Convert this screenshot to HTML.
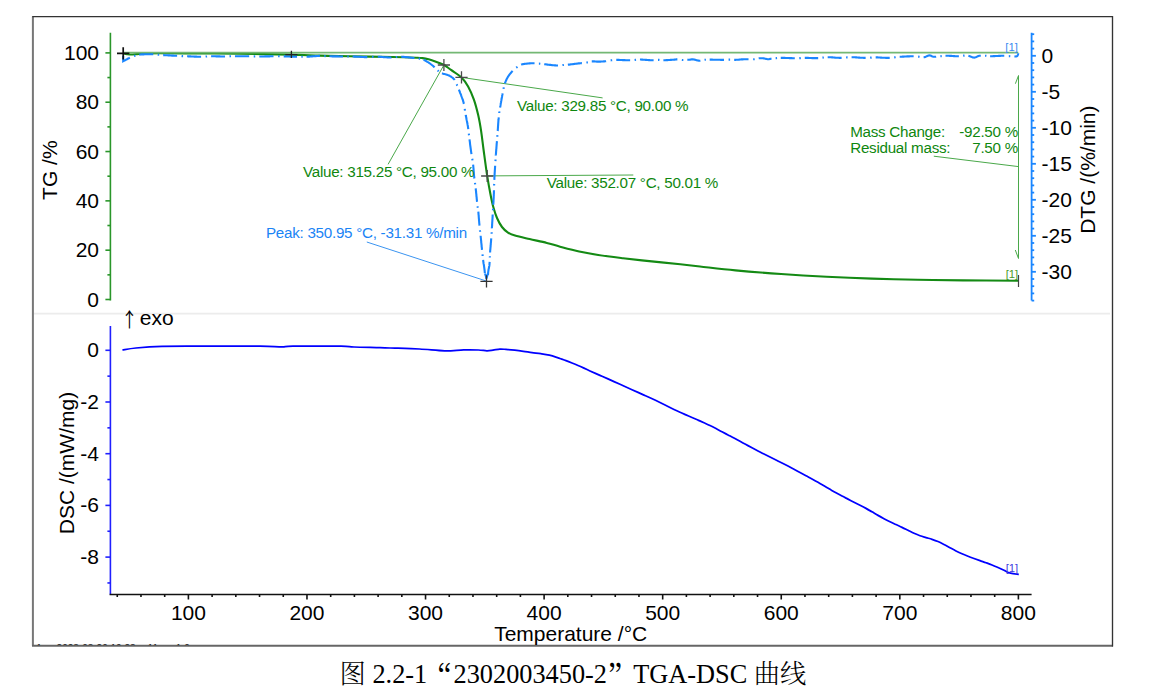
<!DOCTYPE html><html><head><meta charset="utf-8"><title>TGA-DSC</title><style>
html,body{margin:0;padding:0;background:#fff;}body{width:1153px;height:686px;overflow:hidden;position:relative;}
svg{position:absolute;left:0;top:0;display:block}
.t{font-family:'Liberation Sans', Arial, sans-serif;font-size:21px;fill:#000}
.a{font-family:'Liberation Sans', Arial, sans-serif;font-size:15.2px;letter-spacing:-0.27px}
.cap{position:absolute;left:0;top:0;white-space:nowrap;font-family:"Liberation Serif","Noto Serif CJK SC",serif;font-size:26.3px;color:#000;line-height:1;font-weight:300}
.q1,.q2{font-family:"Noto Serif CJK SC",serif;display:inline-block;font-weight:300}.q1{transform:translate(-2.4px,4.6px) scale(1.2,1.28);transform-origin:75% 30%}.q2{transform:translate(1.5px,4.8px) scale(1.2,1.28);transform-origin:25% 30%}
</style></head><body>
<svg width="1153" height="686" viewBox="0 0 1153 686">
<path d="M32.9,16.6 V645.7" stroke="#777" stroke-width="2" fill="none"/>
<path d="M32,645.7 H1113" stroke="#666" stroke-width="1.9" fill="none"/>
<path d="M32.2,16.6 H1112.5 V646.4" stroke="#333" stroke-width="1.35" fill="none"/>
<defs><clipPath id="fc"><rect x="34" y="600" width="1078" height="45.2"/></clipPath></defs>
<g clip-path="url(#fc)" style="font-family:'Liberation Sans', Arial, sans-serif;font-size:10px" fill="#222"><text x="36.3" y="652.1">1</text><text x="56.6" y="652.1">2023-03-20 10:28</text><text x="147.6" y="652.1">11</text><text x="175.8" y="652.1">1 0</text></g>
<line x1="34" y1="313.6" x2="1110" y2="313.6" stroke="#ececec" stroke-width="1.6"/>
<g stroke="#2a962a" stroke-width="1.6" fill="none">
<line x1="110.4" y1="32.8" x2="110.4" y2="300.5"/>
<line x1="105.4" y1="299.50" x2="110.4" y2="299.50"/>
<line x1="107.4" y1="274.84" x2="110.4" y2="274.84"/>
<line x1="105.4" y1="250.18" x2="110.4" y2="250.18"/>
<line x1="107.4" y1="225.52" x2="110.4" y2="225.52"/>
<line x1="105.4" y1="200.86" x2="110.4" y2="200.86"/>
<line x1="107.4" y1="176.20" x2="110.4" y2="176.20"/>
<line x1="105.4" y1="151.54" x2="110.4" y2="151.54"/>
<line x1="107.4" y1="126.88" x2="110.4" y2="126.88"/>
<line x1="105.4" y1="102.22" x2="110.4" y2="102.22"/>
<line x1="107.4" y1="77.56" x2="110.4" y2="77.56"/>
<line x1="105.4" y1="52.90" x2="110.4" y2="52.90"/>
</g>
<text class="t" x="99" y="299.00" text-anchor="end" dominant-baseline="central">0</text>
<text class="t" x="99" y="249.68" text-anchor="end" dominant-baseline="central">20</text>
<text class="t" x="99" y="200.36" text-anchor="end" dominant-baseline="central">40</text>
<text class="t" x="99" y="151.04" text-anchor="end" dominant-baseline="central">60</text>
<text class="t" x="99" y="101.72" text-anchor="end" dominant-baseline="central">80</text>
<text class="t" x="99" y="52.40" text-anchor="end" dominant-baseline="central">100</text>
<g stroke="#1a86ff" stroke-width="1.8" fill="none">
<line x1="1031.6" y1="32.7" x2="1031.6" y2="300.5"/>
<line x1="1031.6" y1="34.20" x2="1034.2" y2="34.20"/>
<line x1="1031.6" y1="41.40" x2="1034.2" y2="41.40"/>
<line x1="1031.6" y1="48.60" x2="1034.2" y2="48.60"/>
<line x1="1031.6" y1="55.80" x2="1035.9" y2="55.80"/>
<line x1="1031.6" y1="63.00" x2="1034.2" y2="63.00"/>
<line x1="1031.6" y1="70.20" x2="1034.2" y2="70.20"/>
<line x1="1031.6" y1="77.40" x2="1034.2" y2="77.40"/>
<line x1="1031.6" y1="84.60" x2="1034.2" y2="84.60"/>
<line x1="1031.6" y1="91.80" x2="1035.9" y2="91.80"/>
<line x1="1031.6" y1="99.00" x2="1034.2" y2="99.00"/>
<line x1="1031.6" y1="106.20" x2="1034.2" y2="106.20"/>
<line x1="1031.6" y1="113.40" x2="1034.2" y2="113.40"/>
<line x1="1031.6" y1="120.60" x2="1034.2" y2="120.60"/>
<line x1="1031.6" y1="127.80" x2="1035.9" y2="127.80"/>
<line x1="1031.6" y1="135.00" x2="1034.2" y2="135.00"/>
<line x1="1031.6" y1="142.20" x2="1034.2" y2="142.20"/>
<line x1="1031.6" y1="149.40" x2="1034.2" y2="149.40"/>
<line x1="1031.6" y1="156.60" x2="1034.2" y2="156.60"/>
<line x1="1031.6" y1="163.80" x2="1035.9" y2="163.80"/>
<line x1="1031.6" y1="171.00" x2="1034.2" y2="171.00"/>
<line x1="1031.6" y1="178.20" x2="1034.2" y2="178.20"/>
<line x1="1031.6" y1="185.40" x2="1034.2" y2="185.40"/>
<line x1="1031.6" y1="192.60" x2="1034.2" y2="192.60"/>
<line x1="1031.6" y1="199.80" x2="1035.9" y2="199.80"/>
<line x1="1031.6" y1="207.00" x2="1034.2" y2="207.00"/>
<line x1="1031.6" y1="214.20" x2="1034.2" y2="214.20"/>
<line x1="1031.6" y1="221.40" x2="1034.2" y2="221.40"/>
<line x1="1031.6" y1="228.60" x2="1034.2" y2="228.60"/>
<line x1="1031.6" y1="235.80" x2="1035.9" y2="235.80"/>
<line x1="1031.6" y1="243.00" x2="1034.2" y2="243.00"/>
<line x1="1031.6" y1="250.20" x2="1034.2" y2="250.20"/>
<line x1="1031.6" y1="257.40" x2="1034.2" y2="257.40"/>
<line x1="1031.6" y1="264.60" x2="1034.2" y2="264.60"/>
<line x1="1031.6" y1="271.80" x2="1035.9" y2="271.80"/>
<line x1="1031.6" y1="279.00" x2="1034.2" y2="279.00"/>
<line x1="1031.6" y1="286.20" x2="1034.2" y2="286.20"/>
<line x1="1031.6" y1="293.40" x2="1034.2" y2="293.40"/>
<line x1="1031.6" y1="300.60" x2="1034.2" y2="300.60"/>
</g>
<text class="t" x="1041.5" y="55.30" dominant-baseline="central">0</text>
<text class="t" x="1041.5" y="91.30" dominant-baseline="central">-5</text>
<text class="t" x="1041.5" y="127.30" dominant-baseline="central">-10</text>
<text class="t" x="1041.5" y="163.30" dominant-baseline="central">-15</text>
<text class="t" x="1041.5" y="199.30" dominant-baseline="central">-20</text>
<text class="t" x="1041.5" y="235.30" dominant-baseline="central">-25</text>
<text class="t" x="1041.5" y="271.30" dominant-baseline="central">-30</text>
<g stroke="#2020ff" stroke-width="1.6" fill="none">
<line x1="110.4" y1="326" x2="110.4" y2="594.5"/>
<line x1="105.4" y1="350.30" x2="110.4" y2="350.30"/>
<line x1="107.4" y1="376.15" x2="110.4" y2="376.15"/>
<line x1="105.4" y1="402.00" x2="110.4" y2="402.00"/>
<line x1="107.4" y1="427.85" x2="110.4" y2="427.85"/>
<line x1="105.4" y1="453.70" x2="110.4" y2="453.70"/>
<line x1="107.4" y1="479.55" x2="110.4" y2="479.55"/>
<line x1="105.4" y1="505.40" x2="110.4" y2="505.40"/>
<line x1="107.4" y1="531.25" x2="110.4" y2="531.25"/>
<line x1="105.4" y1="557.10" x2="110.4" y2="557.10"/>
<line x1="107.4" y1="582.95" x2="110.4" y2="582.95"/>
</g>
<text class="t" x="99" y="349.80" text-anchor="end" dominant-baseline="central">0</text>
<text class="t" x="99" y="401.50" text-anchor="end" dominant-baseline="central">-2</text>
<text class="t" x="99" y="453.20" text-anchor="end" dominant-baseline="central">-4</text>
<text class="t" x="99" y="504.90" text-anchor="end" dominant-baseline="central">-6</text>
<text class="t" x="99" y="556.60" text-anchor="end" dominant-baseline="central">-8</text>
<g stroke="#111" stroke-width="1.6" fill="none">
<line x1="109.6" y1="594.5" x2="1031.6" y2="594.5"/>
<line x1="117.26" y1="594.5" x2="117.26" y2="597.0"/>
<line x1="140.97" y1="594.5" x2="140.97" y2="597.0"/>
<line x1="164.69" y1="594.5" x2="164.69" y2="597.0"/>
<line x1="188.40" y1="594.5" x2="188.40" y2="599.5"/>
<line x1="212.11" y1="594.5" x2="212.11" y2="597.0"/>
<line x1="235.83" y1="594.5" x2="235.83" y2="597.0"/>
<line x1="259.54" y1="594.5" x2="259.54" y2="597.0"/>
<line x1="283.26" y1="594.5" x2="283.26" y2="597.0"/>
<line x1="306.97" y1="594.5" x2="306.97" y2="599.5"/>
<line x1="330.68" y1="594.5" x2="330.68" y2="597.0"/>
<line x1="354.40" y1="594.5" x2="354.40" y2="597.0"/>
<line x1="378.11" y1="594.5" x2="378.11" y2="597.0"/>
<line x1="401.83" y1="594.5" x2="401.83" y2="597.0"/>
<line x1="425.54" y1="594.5" x2="425.54" y2="599.5"/>
<line x1="449.25" y1="594.5" x2="449.25" y2="597.0"/>
<line x1="472.97" y1="594.5" x2="472.97" y2="597.0"/>
<line x1="496.68" y1="594.5" x2="496.68" y2="597.0"/>
<line x1="520.40" y1="594.5" x2="520.40" y2="597.0"/>
<line x1="544.11" y1="594.5" x2="544.11" y2="599.5"/>
<line x1="567.82" y1="594.5" x2="567.82" y2="597.0"/>
<line x1="591.54" y1="594.5" x2="591.54" y2="597.0"/>
<line x1="615.25" y1="594.5" x2="615.25" y2="597.0"/>
<line x1="638.97" y1="594.5" x2="638.97" y2="597.0"/>
<line x1="662.68" y1="594.5" x2="662.68" y2="599.5"/>
<line x1="686.39" y1="594.5" x2="686.39" y2="597.0"/>
<line x1="710.11" y1="594.5" x2="710.11" y2="597.0"/>
<line x1="733.82" y1="594.5" x2="733.82" y2="597.0"/>
<line x1="757.54" y1="594.5" x2="757.54" y2="597.0"/>
<line x1="781.25" y1="594.5" x2="781.25" y2="599.5"/>
<line x1="804.96" y1="594.5" x2="804.96" y2="597.0"/>
<line x1="828.68" y1="594.5" x2="828.68" y2="597.0"/>
<line x1="852.39" y1="594.5" x2="852.39" y2="597.0"/>
<line x1="876.11" y1="594.5" x2="876.11" y2="597.0"/>
<line x1="899.82" y1="594.5" x2="899.82" y2="599.5"/>
<line x1="923.53" y1="594.5" x2="923.53" y2="597.0"/>
<line x1="947.25" y1="594.5" x2="947.25" y2="597.0"/>
<line x1="970.96" y1="594.5" x2="970.96" y2="597.0"/>
<line x1="994.68" y1="594.5" x2="994.68" y2="597.0"/>
<line x1="1018.39" y1="594.5" x2="1018.39" y2="599.5"/>
</g>
<text class="t" x="188.40" y="619.6" text-anchor="middle">100</text>
<text class="t" x="306.97" y="619.6" text-anchor="middle">200</text>
<text class="t" x="425.54" y="619.6" text-anchor="middle">300</text>
<text class="t" x="544.11" y="619.6" text-anchor="middle">400</text>
<text class="t" x="662.68" y="619.6" text-anchor="middle">500</text>
<text class="t" x="781.25" y="619.6" text-anchor="middle">600</text>
<text class="t" x="899.82" y="619.6" text-anchor="middle">700</text>
<text class="t" x="1018.39" y="619.6" text-anchor="middle">800</text>
<text class="t" x="640" y="640.6" text-anchor="middle" transform="translate(-69.3,0)">Temperature /°C</text>
<text class="t" transform="translate(56.9,170.2) rotate(-90)" text-anchor="middle">TG /%</text>
<text class="t" transform="translate(74.3,463) rotate(-90)" text-anchor="middle">DSC /(mW/mg)</text>
<text class="t" transform="translate(1095.2,169.7) rotate(-90)" text-anchor="middle">DTG /(%/min)</text>
<text transform="translate(129.4,327.4) scale(0.8,0.97)" text-anchor="middle" style="font-family:'Noto Sans CJK SC',sans-serif;font-size:20.5px;font-weight:400">↑</text>
<text class="t" x="139.8" y="325.2">exo</text>
<g stroke="#4aa84a" stroke-width="1" fill="none">
<line x1="443.9" y1="65" x2="388.1" y2="164.3"/>
<line x1="461.5" y1="77.4" x2="602.6" y2="97.9"/>
<line x1="487.2" y1="175.9" x2="633.3" y2="175"/>
<line x1="933.8" y1="156.2" x2="1018.5" y2="166.6"/>
<line x1="1018.5" y1="75.5" x2="1018.5" y2="258.5"/>
<polyline points="1015.4,83.7 1018.5,75.5"/>
<polyline points="1015.3,250 1018.5,258.5"/>
</g>
<line x1="366.8" y1="242" x2="485.9" y2="280.9" stroke="#3b94f0" stroke-width="1"/>
<path d="M122.40,350.00 C124.67,349.67 129.40,348.60 136.00,348.00 C142.60,347.40 151.17,346.70 162.00,346.40 C172.83,346.10 188.00,346.23 201.00,346.20 C214.00,346.17 231.83,346.22 240.00,346.20 C248.17,346.18 245.33,346.07 250.00,346.10 C254.67,346.13 262.58,346.27 268.00,346.40 C273.42,346.53 278.33,346.93 282.50,346.90 C286.67,346.87 283.25,346.33 293.00,346.20 C302.75,346.07 330.83,345.97 341.00,346.10 C351.17,346.23 347.50,346.75 354.00,347.00 C360.50,347.25 374.00,347.43 380.00,347.60 C386.00,347.77 383.42,347.77 390.00,348.00 C396.58,348.23 410.40,348.53 419.50,349.00 C428.60,349.47 437.23,350.65 444.60,350.80 C451.97,350.95 458.05,350.03 463.70,349.90 C469.35,349.77 474.63,349.85 478.50,350.00 C482.37,350.15 484.48,350.77 486.90,350.80 C489.32,350.83 490.83,350.48 493.00,350.20 C495.17,349.92 497.73,349.23 499.90,349.10 C502.07,348.97 503.53,349.22 506.00,349.40 C508.47,349.58 511.80,349.88 514.70,350.20 C517.60,350.52 520.52,350.90 523.40,351.30 C526.28,351.70 529.12,352.20 532.00,352.60 C534.88,353.00 537.80,353.27 540.70,353.70 C543.60,354.13 546.50,354.52 549.40,355.20 C552.30,355.88 556.33,357.25 558.10,357.80 C559.87,358.35 558.68,358.04 560.00,358.51 C561.32,358.98 564.00,359.88 566.00,360.62 C568.00,361.36 570.00,362.15 572.00,362.95 C574.00,363.75 576.00,364.57 578.00,365.44 C580.00,366.31 582.00,367.23 584.00,368.15 C586.00,369.07 588.00,370.04 590.00,370.96 C592.00,371.87 594.00,372.76 596.00,373.64 C598.00,374.53 600.00,375.39 602.00,376.26 C604.00,377.14 606.00,378.02 608.00,378.91 C610.00,379.80 612.00,380.69 614.00,381.59 C616.00,382.49 618.00,383.39 620.00,384.30 C622.00,385.20 624.00,386.10 626.00,387.01 C628.00,387.91 630.00,388.81 632.00,389.71 C634.00,390.61 636.00,391.51 638.00,392.40 C640.00,393.30 642.00,394.19 644.00,395.08 C646.00,395.97 648.00,396.85 650.00,397.76 C652.00,398.68 654.00,399.62 656.00,400.58 C658.00,401.55 660.00,402.56 662.00,403.55 C664.00,404.54 666.00,405.56 668.00,406.54 C670.00,407.53 672.00,408.52 674.00,409.47 C676.00,410.43 678.00,411.35 680.00,412.25 C682.00,413.15 684.00,414.00 686.00,414.87 C688.00,415.73 690.00,416.56 692.00,417.43 C694.00,418.31 696.00,419.20 698.00,420.09 C700.00,420.99 702.00,421.87 704.00,422.78 C706.00,423.69 708.00,424.57 710.00,425.54 C712.00,426.51 714.00,427.54 716.00,428.58 C718.00,429.63 720.00,430.75 722.00,431.80 C724.00,432.86 726.00,433.88 728.00,434.92 C730.00,435.96 732.00,436.97 734.00,438.03 C736.00,439.09 738.00,440.18 740.00,441.27 C742.00,442.36 744.00,443.47 746.00,444.56 C748.00,445.65 750.00,446.75 752.00,447.82 C754.00,448.89 756.00,449.95 758.00,450.98 C760.00,452.02 762.00,453.02 764.00,454.03 C766.00,455.04 768.00,456.03 770.00,457.03 C772.00,458.03 774.00,459.01 776.00,460.01 C778.00,461.01 780.00,461.99 782.00,463.00 C784.00,464.01 786.00,465.02 788.00,466.07 C790.00,467.12 792.00,468.20 794.00,469.29 C796.00,470.37 798.00,471.48 800.00,472.57 C802.00,473.65 804.00,474.72 806.00,475.78 C808.00,476.84 810.00,477.85 812.00,478.92 C814.00,480.00 816.00,481.08 818.00,482.22 C820.00,483.36 822.00,484.57 824.00,485.76 C826.00,486.95 828.00,488.16 830.00,489.34 C832.00,490.52 834.00,491.72 836.00,492.85 C838.00,493.97 840.00,495.04 842.00,496.09 C844.00,497.14 846.00,498.13 848.00,499.15 C850.00,500.16 852.00,501.16 854.00,502.17 C856.00,503.18 858.00,504.17 860.00,505.20 C862.00,506.23 864.00,507.26 866.00,508.36 C868.00,509.47 870.00,510.66 872.00,511.83 C874.00,513.00 876.00,514.23 878.00,515.37 C880.00,516.52 882.00,517.64 884.00,518.70 C886.00,519.76 888.00,520.77 890.00,521.75 C892.00,522.73 894.00,523.65 896.00,524.58 C898.00,525.52 900.00,526.39 902.00,527.35 C904.00,528.30 906.00,529.31 908.00,530.30 C910.00,531.29 912.00,532.37 914.00,533.27 C916.00,534.18 918.00,535.02 920.00,535.74 C922.00,536.46 924.00,536.99 926.00,537.59 C928.00,538.19 930.00,538.67 932.00,539.33 C934.00,539.99 936.00,540.68 938.00,541.54 C940.00,542.39 942.00,543.44 944.00,544.47 C946.00,545.50 948.00,546.66 950.00,547.74 C952.00,548.82 954.00,549.92 956.00,550.93 C958.00,551.94 960.00,552.90 962.00,553.79 C964.00,554.68 966.00,555.48 968.00,556.28 C970.00,557.07 972.00,557.81 974.00,558.55 C976.00,559.28 978.00,559.99 980.00,560.68 C982.00,561.38 984.00,562.02 986.00,562.73 C988.00,563.44 990.00,564.14 992.00,564.94 C994.00,565.74 996.00,566.64 998.00,567.53 C1000.00,568.42 1002.68,569.65 1004.00,570.28 C1005.32,570.91 1004.80,570.81 1005.90,571.30 C1007.00,571.79 1008.45,572.68 1010.60,573.20 C1012.75,573.72 1017.43,574.20 1018.80,574.40" fill="none" stroke="#0000ff" stroke-width="1.75"/>
<path d="M123.00,53.30 C123.67,53.43 125.67,53.90 127.00,54.10 C128.33,54.30 129.33,54.50 131.00,54.50 C132.67,54.50 134.50,54.27 137.00,54.10 C139.50,53.93 142.17,53.63 146.00,53.50 C149.83,53.37 151.00,53.32 160.00,53.30 C169.00,53.28 186.67,53.32 200.00,53.40 C213.33,53.48 224.83,53.60 240.00,53.80 C255.17,54.00 277.67,54.30 291.00,54.60 C304.33,54.90 310.17,55.32 320.00,55.60 C329.83,55.88 338.00,56.07 350.00,56.30 C362.00,56.53 380.93,56.77 392.00,57.00 C403.07,57.23 411.32,57.52 416.40,57.70 C421.48,57.88 420.47,57.83 422.50,58.10 C424.53,58.37 426.58,58.78 428.60,59.30 C430.62,59.82 432.58,60.50 434.60,61.20 C436.62,61.90 439.10,62.87 440.70,63.50 C442.30,64.13 442.48,63.93 444.20,65.00 C445.92,66.07 448.12,67.83 451.00,69.90 C453.88,71.97 458.65,74.65 461.50,77.40 C464.35,80.15 466.03,82.70 468.10,86.40 C470.17,90.10 472.20,94.73 473.90,99.60 C475.60,104.47 477.08,110.27 478.30,115.60 C479.52,120.93 480.32,125.87 481.20,131.60 C482.08,137.33 482.60,142.62 483.60,150.00 C484.60,157.38 486.03,168.40 487.20,175.90 C488.37,183.40 489.58,189.82 490.60,195.00 C491.62,200.18 492.23,203.17 493.30,207.00 C494.37,210.83 495.55,214.67 497.00,218.00 C498.45,221.33 500.17,224.57 502.00,227.00 C503.83,229.43 505.83,231.17 508.00,232.60 C510.17,234.03 511.40,234.52 515.00,235.60 C518.60,236.68 524.30,237.88 529.60,239.10 C534.90,240.32 541.72,241.63 546.80,242.90 C551.88,244.17 554.70,245.27 560.10,246.70 C565.50,248.13 572.83,250.12 579.20,251.50 C585.57,252.88 590.98,253.88 598.30,255.00 C605.62,256.12 614.20,257.13 623.10,258.20 C632.00,259.27 642.17,260.38 651.70,261.40 C661.23,262.42 672.25,263.45 680.30,264.30 C688.35,265.15 690.80,265.48 700.00,266.50 C709.20,267.52 721.98,269.15 735.50,270.40 C749.02,271.65 765.92,272.95 781.10,274.00 C796.28,275.05 811.43,275.93 826.60,276.70 C841.77,277.47 856.92,278.08 872.10,278.60 C887.28,279.12 902.52,279.50 917.70,279.80 C932.88,280.10 946.40,280.25 963.20,280.40 C980.00,280.55 1009.28,280.65 1018.50,280.70" fill="none" stroke="#148a14" stroke-width="2.1" stroke-linejoin="round"/>
<line x1="123" y1="52.6" x2="1018.3" y2="52.6" stroke-width="1.6" stroke="#74b874"/>
<path d="M123.2,55.8 123.2,56.6 123.2,57.3 123.2,58.1 123.2,58.9 123.2,59.7 123.2,60.4 123.2,61.2 123.8,60.9 124.5,60.5 125.1,60.2 125.7,59.9 126.4,59.5 127.0,59.2 127.7,58.8 128.3,58.5 128.9,58.2 129.6,57.8 130.2,57.5 130.6,57.3 131.2,57.1 131.9,56.8 132.6,56.5 133.4,56.2 134.2,55.9 134.8,55.7 135.4,55.5 135.9,55.3 136.5,55.1 137.3,54.9 138.2,54.7 139.3,54.6" fill="none" stroke="#1a86ff" stroke-width="2.1" stroke-dasharray="14.00 4.50 1.50 4.00" stroke-dashoffset="1.09"/>
<path d="M139.3,54.6 139.8,54.6 140.4,54.5 141.0,54.5 141.6,54.4 142.3,54.4 143.0,54.4 143.8,54.4 144.5,54.3 145.3,54.3 146.0,54.3 146.8,54.3 147.6,54.3 148.4,54.3 149.1,54.3 149.9,54.3 150.6,54.3 151.3,54.3 152.0,54.3 152.7,54.3 153.5,54.3 154.2,54.4 154.9,54.4 155.5,54.5 156.2,54.5 156.9,54.6 157.5,54.6 158.2,54.7 158.9,54.8 159.6,54.8 160.3,54.9 161.0,54.9 161.7,55.0 162.4,55.1 163.2,55.1" fill="none" stroke="#1a86ff" stroke-width="2.1" stroke-dasharray="13.96 4.49 1.50 3.99"/>
<path d="M163.2,55.1 163.9,55.1 164.5,55.2 165.2,55.2 165.9,55.3 166.7,55.3 167.4,55.3 168.1,55.4 168.9,55.4 169.6,55.4 170.4,55.5 171.1,55.5 171.9,55.6 172.6,55.6 173.3,55.6 174.0,55.7 174.7,55.7 175.4,55.7 176.1,55.8 176.7,55.8 177.5,55.8 178.3,55.9 179.1,55.9 179.8,56.0 180.5,56.0 181.2,56.0 181.9,56.1 182.6,56.1 183.3,56.1 184.0,56.2 184.7,56.2 185.5,56.2 186.3,56.3 187.1,56.3" fill="none" stroke="#1a86ff" stroke-width="2.1" stroke-dasharray="13.96 4.49 1.50 3.99"/>
<path d="M187.1,56.3 187.7,56.3 188.4,56.4 189.1,56.4 189.8,56.4 190.5,56.4 191.3,56.5 192.0,56.5 192.8,56.5 193.5,56.5 194.3,56.6 195.0,56.6 195.8,56.6 196.5,56.6 197.3,56.7 198.0,56.7 198.7,56.7 199.4,56.7 200.1,56.7 200.7,56.7 201.5,56.7 202.3,56.7 203.1,56.7 203.8,56.6 204.5,56.6 205.2,56.6 205.9,56.5 206.6,56.5 207.3,56.4 208.0,56.4 208.8,56.4 209.5,56.3 210.3,56.3 211.1,56.3" fill="none" stroke="#1a86ff" stroke-width="2.1" stroke-dasharray="14.01 4.50 1.50 4.00"/>
<path d="M211.1,56.3 211.8,56.3 212.4,56.3 213.1,56.3 213.9,56.3 214.6,56.3 215.3,56.3 216.1,56.4 216.8,56.4 217.6,56.4 218.3,56.4 219.1,56.4 219.8,56.4 220.6,56.5 221.3,56.5 222.0,56.5 222.7,56.5 223.4,56.5 224.1,56.5 224.9,56.5 225.6,56.5 226.4,56.5 227.1,56.4 227.8,56.4 228.5,56.4 229.2,56.4 229.9,56.3 230.6,56.3 231.3,56.3 232.0,56.3 232.8,56.2 233.5,56.2 234.2,56.2 235.0,56.2" fill="none" stroke="#1a86ff" stroke-width="2.1" stroke-dasharray="13.95 4.48 1.49 3.98"/>
<path d="M235.0,56.2 235.7,56.2 236.4,56.2 237.1,56.2 237.8,56.2 238.5,56.2 239.2,56.2 240.0,56.2 240.7,56.2 241.4,56.2 242.2,56.2 242.9,56.2 243.7,56.3 244.4,56.3 245.1,56.3 245.9,56.3 246.6,56.3 247.3,56.3 248.0,56.3 248.7,56.3 249.4,56.3 250.1,56.3 250.8,56.4 251.4,56.4 252.1,56.4 252.8,56.4 253.5,56.4 254.2,56.4 254.9,56.5 255.6,56.5 256.3,56.5 257.0,56.5 257.8,56.5 258.5,56.5 259.3,56.5" fill="none" stroke="#1a86ff" stroke-width="2.1" stroke-dasharray="14.18 4.56 1.52 4.05"/>
<path d="M259.3,56.5 260.0,56.5 260.6,56.5 261.3,56.5 262.1,56.5 262.8,56.5 263.5,56.5 264.3,56.5 265.0,56.4 265.8,56.4 266.6,56.4 267.3,56.4 268.1,56.4 268.9,56.4 269.6,56.4 270.3,56.3 271.1,56.3 271.7,56.3 272.4,56.3 273.1,56.3 273.7,56.3 274.3,56.3 275.2,56.3 276.0,56.3 276.8,56.3 277.5,56.3 278.2,56.3 278.8,56.3 279.5,56.3 280.1,56.3 280.8,56.3 281.4,56.4 282.1,56.4 282.9,56.4 283.7,56.4" fill="none" stroke="#1a86ff" stroke-width="2.1" stroke-dasharray="14.23 4.58 1.53 4.07"/>
<path d="M283.7,56.4 284.4,56.4 285.0,56.4 285.7,56.4 286.5,56.5 287.2,56.5 288.0,56.5 288.7,56.5 289.5,56.5 290.3,56.6 291.0,56.6 291.8,56.6 292.6,56.6 293.3,56.6 294.1,56.7 294.8,56.7 295.5,56.7 296.2,56.7 297.0,56.7 297.8,56.7 298.5,56.7 299.2,56.7 299.9,56.8 300.6,56.8 301.3,56.8 302.0,56.8 302.7,56.8 303.5,56.8 304.2,56.8 305.0,56.7 305.8,56.7 306.6,56.7" fill="none" stroke="#1a86ff" stroke-width="2.1" stroke-dasharray="13.36 4.29 1.43 3.82"/>
<path d="M306.6,56.7 307.2,56.7 307.9,56.6 308.6,56.6 309.3,56.6 310.0,56.5 310.8,56.5 311.5,56.4 312.3,56.4 313.0,56.3 313.8,56.2 314.5,56.2 315.3,56.1 316.0,56.1 316.8,56.0 317.5,56.0 318.2,56.0 318.8,55.9 319.5,55.9 320.1,55.9 320.9,55.9 321.7,55.9 322.4,55.9 323.1,55.9 323.8,56.0 324.4,56.0 325.0,56.1 325.7,56.1 326.4,56.2 327.1,56.2 327.8,56.2 328.6,56.3 329.5,56.3" fill="none" stroke="#1a86ff" stroke-width="2.1" stroke-dasharray="13.38 4.30 1.43 3.82"/>
<path d="M329.5,56.3 330.1,56.3 330.8,56.3 331.5,56.3 332.2,56.4 332.9,56.4 333.7,56.4 334.5,56.4 335.3,56.4 336.1,56.4 336.9,56.4 337.7,56.4 338.4,56.4 339.2,56.5 340.0,56.5 340.8,56.5 341.5,56.5 342.2,56.5 342.9,56.5 343.5,56.5 344.1,56.5 345.0,56.5 345.8,56.5 346.5,56.5 347.2,56.5 347.8,56.5 348.4,56.5 349.0,56.5 349.6,56.5 350.2,56.5 350.9,56.5 351.7,56.5 352.6,56.5" fill="none" stroke="#1a86ff" stroke-width="2.1" stroke-dasharray="13.48 4.33 1.44 3.85"/>
<path d="M352.6,56.5 353.2,56.5 353.8,56.5 354.5,56.6 355.2,56.6 355.9,56.6 356.7,56.7 357.4,56.7 358.2,56.8 359.0,56.8 359.8,56.8 360.6,56.9 361.3,56.9 362.1,57.0 362.9,57.0 363.6,57.0 364.4,57.1 365.1,57.1 365.8,57.1 366.5,57.1 367.3,57.1 368.0,57.1 368.8,57.1 369.5,57.0 370.2,57.0 370.9,57.0 371.6,56.9 372.3,56.9 372.9,56.8 373.6,56.8 374.3,56.8 375.0,56.7 375.7,56.7 376.4,56.7 377.1,56.7 377.8,56.7" fill="none" stroke="#1a86ff" stroke-width="2.1" stroke-dasharray="14.71 4.73 1.58 4.20"/>
<path d="M377.8,56.7 378.5,56.7 379.2,56.7 379.9,56.8 380.6,56.8 381.3,56.9 382.0,57.0 382.8,57.0 383.5,57.1 384.2,57.2 384.9,57.2 385.7,57.3 386.4,57.3 387.1,57.4 387.8,57.4 388.5,57.5 389.2,57.5 389.9,57.5 390.6,57.5 391.3,57.5 392.0,57.4 392.7,57.4 393.4,57.3 394.0,57.3 394.7,57.2 395.4,57.1 396.1,57.0 396.7,57.0 397.4,56.9 398.2,56.9 398.9,56.8 399.6,56.8 400.4,56.8 401.2,56.8" fill="none" stroke="#1a86ff" stroke-width="2.1" stroke-dasharray="13.68 4.40 1.47 3.91"/>
<path d="M401.2,56.8 401.8,56.8 402.5,56.9 403.2,56.9 403.9,56.9 404.7,57.0 405.4,57.1 406.2,57.1 407.0,57.2 407.8,57.3 408.5,57.4 409.3,57.5 410.1,57.5 410.8,57.6 411.6,57.7 412.3,57.8 413.0,57.9 413.6,58.0 414.3,58.0 414.9,58.1 415.4,58.1 415.9,58.2 417.2,58.3 418.2,58.4 418.9,58.5 419.6,58.6 420.1,58.6 420.6,58.7 421.1,58.8 422.0,59.0 422.7,59.2 423.7,59.7" fill="none" stroke="#1a86ff" stroke-width="2.1" stroke-dasharray="13.29 4.27 1.42 3.80"/>
<path d="M423.7,59.7 424.2,60.0 424.7,60.3 425.3,60.6 426.0,61.0 426.6,61.3 427.3,61.8 428.0,62.2 428.7,62.6 429.4,63.1 430.0,63.5 430.6,64.0 431.3,64.5 431.9,65.0 432.6,65.5 433.2,66.0 433.8,66.6 434.4,67.1 435.0,67.6 435.5,68.0 435.9,68.4 436.6,69.2 437.1,69.7 437.4,70.2 438.0,70.7 438.5,71.1 439.1,71.6 439.7,72.0 440.4,72.5 441.1,72.9 442.0,73.3" fill="none" stroke="#1a86ff" stroke-width="2.1" stroke-dasharray="13.38 4.30 1.43 3.82"/>
<path d="M442.0,73.3 442.6,73.5 443.2,73.7 443.9,73.9 444.7,74.1 445.4,74.3 446.2,74.5 446.9,74.7 447.7,75.0 448.4,75.2 449.0,75.5 449.7,75.9 450.3,76.2 451.0,76.6 451.6,77.1 452.2,77.5 452.8,77.9 453.3,78.4 453.8,78.9 454.3,79.4 454.7,80.0 455.1,80.6 455.5,81.2 455.8,81.9 456.0,82.5 456.3,83.2 456.5,83.9 456.8,84.5 457.1,85.2 457.4,85.7 457.6,86.3 457.8,86.9 458.1,87.6 458.5,88.5 458.9,89.6" fill="none" stroke="#1a86ff" stroke-width="2.1" stroke-dasharray="14.70 4.72 1.57 4.20"/>
<path d="M458.9,89.6 459.1,90.1 459.3,90.6 459.5,91.2 459.7,91.8 460.0,92.4 460.2,93.1 460.5,93.7 460.8,94.4 461.1,95.1 461.3,95.8 461.6,96.6 461.9,97.3 462.1,98.0 462.4,98.8 462.6,99.5 462.9,100.2 463.1,100.9 463.3,101.6 463.5,102.3 463.7,103.0 463.8,103.7 464.0,104.4 464.1,105.1 464.3,105.8 464.4,106.5 464.5,107.2 464.6,107.9 464.7,108.6 464.8,109.3 464.9,110.0 465.0,110.7 465.1,111.4 465.3,112.1 465.4,112.8 465.5,113.5 465.6,114.2 465.7,114.9" fill="none" stroke="#1a86ff" stroke-width="2.1" stroke-dasharray="15.35 4.93 1.64 4.39"/>
<path d="M465.7,114.9 465.8,115.6 466.0,116.4 466.1,117.1 466.3,117.8 466.4,118.5 466.5,119.2 466.7,119.9 466.8,120.7 467.0,121.4 467.1,122.1 467.2,122.8 467.4,123.5 467.5,124.2 467.6,124.9 467.8,125.7 467.9,126.4 468.0,127.1 468.1,127.8 468.2,128.5 468.3,129.3 468.4,130.0 468.5,130.7 468.6,131.4 468.7,132.2 468.8,132.9 468.8,133.6 468.9,134.3 469.0,135.1 469.1,135.8 469.2,136.5 469.2,137.2 469.3,138.0 469.4,138.7 469.5,139.4" fill="none" stroke="#1a86ff" stroke-width="2.1" stroke-dasharray="14.47 4.65 1.55 4.13"/>
<path d="M469.5,139.4 469.6,140.1 469.7,140.8 469.8,141.5 469.9,142.3 470.0,143.0 470.0,143.7 470.1,144.4 470.2,145.1 470.3,145.8 470.4,146.5 470.5,147.2 470.6,148.0 470.7,148.7 470.8,149.4 470.9,150.1 471.0,150.9 471.1,151.6 471.2,152.3 471.3,153.0 471.4,153.7 471.5,154.5 471.7,155.2 471.8,155.9 471.9,156.7 472.0,157.4 472.1,158.1 472.3,158.9 472.4,159.6 472.5,160.3 472.6,161.1 472.7,161.8 472.8,162.5 472.9,163.2 473.0,163.9 473.1,164.6" fill="none" stroke="#1a86ff" stroke-width="2.1" stroke-dasharray="14.85 4.77 1.59 4.24"/>
<path d="M473.1,164.6 473.2,165.4 473.3,166.1 473.3,166.8 473.4,167.6 473.5,168.3 473.5,169.0 473.6,169.7 473.6,170.4 473.7,171.1 473.7,171.8 473.8,172.5 473.8,173.2 473.9,173.9 474.0,174.6 474.0,175.4 474.1,176.1 474.2,176.8 474.3,177.5 474.3,178.2 474.4,178.9 474.5,179.6 474.6,180.3 474.7,181.0 474.8,181.7 474.9,182.4 475.0,183.1 475.1,183.8 475.2,184.6 475.3,185.3 475.4,186.1 475.5,186.8 475.6,187.6 475.7,188.4" fill="none" stroke="#1a86ff" stroke-width="2.1" stroke-dasharray="13.97 4.49 1.50 3.99"/>
<path d="M475.7,188.4 475.8,189.1 475.8,189.7 475.9,190.4 476.0,191.2 476.1,191.9 476.1,192.7 476.2,193.4 476.3,194.2 476.4,195.0 476.4,195.7 476.5,196.5 476.6,197.2 476.7,198.0 476.7,198.7 476.8,199.4 476.9,200.2 476.9,200.8 477.0,201.5 477.1,202.1 477.1,202.7 477.2,203.3 477.3,204.3 477.4,205.1 477.5,205.8 477.6,206.5 477.7,207.1 477.8,207.6 477.9,208.2 478.0,208.9 478.1,209.7 478.2,210.6 478.3,211.6" fill="none" stroke="#1a86ff" stroke-width="2.1" stroke-dasharray="13.62 4.38 1.46 3.89"/>
<path d="M478.3,211.6 478.4,212.2 478.4,212.8 478.5,213.4 478.5,214.1 478.6,214.8 478.7,215.6 478.7,216.3 478.8,217.1 478.8,217.9 478.9,218.7 479.0,219.5 479.0,220.4 479.1,221.2 479.2,222.0 479.2,222.8 479.3,223.5 479.4,224.3 479.4,225.0 479.5,225.7 479.5,226.4 479.6,227.1 479.6,227.6 479.7,228.2 479.8,229.3 479.9,230.2 480.0,230.9 480.1,231.5 480.1,232.0 480.2,232.6 480.3,233.2 480.4,233.9 480.5,234.7 480.6,235.8" fill="none" stroke="#1a86ff" stroke-width="2.1" stroke-dasharray="14.18 4.56 1.52 4.05"/>
<path d="M480.6,235.8 480.7,236.4 480.7,237.0 480.8,237.6 480.9,238.3 480.9,239.0 481.0,239.7 481.1,240.5 481.2,241.3 481.2,242.1 481.3,242.9 481.4,243.7 481.5,244.5 481.6,245.3 481.6,246.1 481.7,246.9 481.8,247.7 481.9,248.4 481.9,249.2 482.0,249.9 482.1,250.5 482.1,251.1 482.2,251.7 482.3,252.7 482.4,253.7 482.5,254.5 482.6,255.3 482.6,256.0 482.7,256.7 482.8,257.3 482.9,258.0 482.9,258.6 483.0,259.3 483.1,260.0" fill="none" stroke="#1a86ff" stroke-width="2.1" stroke-dasharray="14.19 4.56 1.52 4.05"/>
<path d="M483.1,260.0 483.2,260.7 483.3,261.5 483.4,262.2 483.5,263.0 483.6,263.7 483.8,264.4 483.9,265.2 484.0,265.9 484.1,266.6 484.2,267.3 484.3,268.0 484.4,268.8 484.5,269.5 484.6,270.3 484.7,271.0 484.7,271.8 484.8,272.5 484.9,273.2 485.0,273.9 485.1,274.5 485.2,275.0 485.5,275.9 485.8,276.7 486.1,277.4 486.3,277.9 486.5,278.3 487.0,278.2 487.6,277.2 487.7,276.7 487.8,276.1 487.9,275.4 488.0,274.7 488.1,273.9 488.1,273.1 488.2,272.2 488.3,271.4 488.4,270.7 488.5,270.0 488.6,269.2 488.8,268.6 488.9,268.0 489.0,267.4 489.1,266.8 489.3,266.0 489.4,265.2 489.5,264.2 489.5,263.6 489.6,263.0 489.6,262.4 489.7,261.8 489.7,261.1 489.7,260.4 489.8,259.7 489.8,258.9 489.8,258.2 489.8,257.4 489.9,256.6 489.9,255.8 489.9,255.0 490.0,254.1 490.0,253.3 490.1,252.4" fill="none" stroke="#1a86ff" stroke-width="2.1" stroke-dasharray="13.23 4.25 1.42 3.78"/>
<path d="M490.1,252.4 490.1,251.8 490.2,251.1 490.2,250.4 490.3,249.7 490.4,248.9 490.4,248.2 490.5,247.4 490.6,246.6 490.6,245.8 490.7,245.0 490.8,244.2 490.8,243.4 490.9,242.7 491.0,241.9 491.0,241.1 491.1,240.4 491.1,239.7 491.2,239.0 491.3,238.3 491.3,237.7 491.4,237.1 491.4,236.5 491.5,235.5 491.5,234.6 491.6,233.9 491.6,233.2 491.7,232.6 491.7,232.0 491.7,231.4 491.8,230.8 491.8,230.0 491.8,229.2 491.9,228.2" fill="none" stroke="#1a86ff" stroke-width="2.1" stroke-dasharray="14.16 4.55 1.52 4.04"/>
<path d="M491.9,228.2 491.9,227.6 492.0,227.0 492.0,226.3 492.1,225.6 492.1,224.9 492.1,224.2 492.2,223.4 492.2,222.6 492.3,221.8 492.3,221.0 492.4,220.2 492.4,219.4 492.5,218.6 492.5,217.8 492.6,217.0 492.6,216.3 492.6,215.6 492.7,214.9 492.7,214.2 492.8,213.6 492.8,213.0 492.9,212.0 492.9,211.1 493.0,210.3 493.0,209.5 493.1,208.8 493.1,208.2 493.1,207.5 493.2,206.9 493.2,206.2 493.3,205.5 493.3,204.7" fill="none" stroke="#1a86ff" stroke-width="2.1" stroke-dasharray="13.73 4.41 1.47 3.92"/>
<path d="M493.3,204.7 493.3,204.0 493.4,203.3 493.4,202.6 493.5,201.8 493.5,201.1 493.5,200.3 493.6,199.5 493.6,198.8 493.7,198.0 493.7,197.2 493.7,196.5 493.8,195.7 493.8,195.0 493.8,194.3 493.9,193.5 493.9,192.8 493.9,192.0 493.9,191.3 494.0,190.5 494.0,189.8 494.0,189.1 494.0,188.3 494.0,187.6 494.1,186.9 494.1,186.3 494.1,185.6 494.1,184.8 494.2,184.0 494.2,183.3 494.2,182.6 494.2,181.9 494.3,181.3 494.3,180.5 494.3,179.8" fill="none" stroke="#1a86ff" stroke-width="2.1" stroke-dasharray="14.56 4.68 1.56 4.16"/>
<path d="M494.3,179.8 494.4,178.9 494.4,178.0 494.4,177.4 494.5,176.7 494.5,176.0 494.5,175.3 494.6,174.6 494.6,173.8 494.7,173.1 494.7,172.3 494.8,171.5 494.8,170.7 494.9,169.9 494.9,169.2 495.0,168.4 495.0,167.7 495.1,166.9 495.1,166.2 495.1,165.5 495.2,164.7 495.2,164.0 495.3,163.3 495.3,162.6 495.4,161.9 495.4,161.2 495.5,160.6 495.5,159.9 495.5,159.2 495.6,158.5 495.6,157.8 495.7,157.0 495.7,156.3 495.8,155.5" fill="none" stroke="#1a86ff" stroke-width="2.1" stroke-dasharray="14.18 4.56 1.52 4.05"/>
<path d="M495.8,155.5 495.8,154.8 495.9,154.2 496.0,153.5 496.0,152.8 496.1,152.0 496.1,151.3 496.2,150.6 496.2,149.8 496.3,149.1 496.4,148.4 496.4,147.6 496.5,146.9 496.5,146.2 496.6,145.5 496.6,144.8 496.7,144.1 496.7,143.4 496.8,142.8 496.9,142.0 496.9,141.3 497.0,140.6 497.0,139.9 497.1,139.2 497.2,138.6 497.2,137.9 497.3,137.3 497.3,136.6 497.4,135.9 497.4,135.3 497.5,134.5 497.5,133.8 497.6,133.0 497.6,132.4 497.7,131.7 497.7,131.0" fill="none" stroke="#1a86ff" stroke-width="2.1" stroke-dasharray="14.36 4.61 1.54 4.10"/>
<path d="M497.7,131.0 497.8,130.2 497.8,129.5 497.9,128.7 497.9,128.0 498.0,127.2 498.0,126.4 498.1,125.6 498.1,124.9 498.2,124.1 498.2,123.4 498.3,122.6 498.3,121.9 498.4,121.3 498.4,120.6 498.5,120.0 498.6,119.1 498.7,118.1 498.8,117.3 498.8,116.5 498.9,115.7 499.0,114.9 499.1,114.2 499.2,113.5 499.2,112.9 499.3,112.3 499.4,111.7 499.5,110.9 499.6,110.5 499.6,110.1 499.7,109.7 499.9,108.9 500.1,107.5" fill="none" stroke="#1a86ff" stroke-width="2.1" stroke-dasharray="13.77 4.42 1.47 3.93"/>
<path d="M500.1,107.5 500.2,107.0 500.3,106.5 500.4,106.0 500.5,105.3 500.6,104.7 500.7,104.0 500.8,103.3 501.0,102.5 501.1,101.8 501.2,101.0 501.4,100.2 501.5,99.4 501.7,98.6 501.8,97.8 502.0,97.0 502.1,96.2 502.2,95.4 502.4,94.7 502.5,94.0 502.6,93.3 502.8,92.6 502.9,92.0 503.0,91.4 503.1,90.9 503.3,89.9 503.5,89.0 503.6,88.2 503.8,87.5 503.9,86.9 504.0,86.3 504.2,85.7 504.3,85.2 504.5,84.6 504.7,84.0 504.9,83.4" fill="none" stroke="#1a86ff" stroke-width="2.1" stroke-dasharray="14.35 4.61 1.54 4.10"/>
<path d="M504.9,83.4 505.2,82.7 505.4,82.0 505.7,81.4 506.0,80.7 506.3,80.0 506.6,79.3 507.0,78.6 507.3,78.0 507.7,77.3 508.1,76.6 508.5,76.0 508.9,75.4 509.3,74.8 509.8,74.2 510.3,73.6 510.8,73.0 511.3,72.4 511.8,71.8 512.3,71.3 512.8,70.8 513.3,70.3 513.7,69.8 514.1,69.4 514.8,68.7 515.4,68.2 516.0,67.8 516.5,67.5 517.0,67.2 517.6,66.8 518.3,66.3 518.9,65.8 519.5,65.4 520.2,65.0 521.1,64.6" fill="none" stroke="#1a86ff" stroke-width="2.1" stroke-dasharray="14.84 4.77 1.59 4.24"/>
<path d="M521.1,64.6 521.7,64.4 522.4,64.2 523.1,64.1 523.9,64.0 524.6,63.9 525.4,63.8 526.2,63.7 527.0,63.6 527.7,63.5 528.4,63.5 529.2,63.4 530.0,63.4 530.7,63.3 531.5,63.3 532.2,63.3 533.0,63.3 533.7,63.3 534.5,63.3 535.3,63.3 536.1,63.4 536.9,63.4 537.7,63.5 538.5,63.6 539.2,63.6 539.9,63.7 540.7,63.8 541.4,63.8 542.0,63.9 542.6,64.0 543.3,64.1 544.2,64.2" fill="none" stroke="#1a86ff" stroke-width="2.1" stroke-dasharray="13.56 4.36 1.45 3.87"/>
<path d="M544.2,64.2 544.8,64.3 545.4,64.3 546.1,64.4 546.8,64.5 547.6,64.6 548.3,64.7 549.1,64.8 549.8,64.9 550.5,64.9 551.2,65.0 551.9,65.1 552.7,65.2 553.4,65.2 554.1,65.3 554.8,65.4 555.5,65.4 556.2,65.5 556.8,65.5 557.5,65.5 558.3,65.5 559.1,65.4 559.9,65.3 560.7,65.3 561.4,65.2 562.2,65.1 562.9,65.0 563.6,65.0 564.3,64.9 564.9,64.9 565.5,64.9 566.2,64.8 567.0,64.8 567.9,64.7" fill="none" stroke="#1a86ff" stroke-width="2.1" stroke-dasharray="13.89 4.46 1.49 3.97"/>
<path d="M567.9,64.7 568.5,64.6 569.2,64.6 570.0,64.5 570.7,64.4 571.5,64.3 572.3,64.2 573.1,64.1 573.9,64.0 574.7,63.9 575.5,63.8 576.2,63.7 577.0,63.6 577.8,63.5 578.5,63.4 579.3,63.4 580.1,63.3 580.8,63.2 581.5,63.1 582.2,63.1 582.9,63.0 583.5,62.9 584.3,62.8 585.1,62.7 585.9,62.6 586.6,62.5 587.3,62.4 587.9,62.3 588.5,62.2 589.4,62.0 590.0,61.7 590.7,61.5 591.8,61.4" fill="none" stroke="#1a86ff" stroke-width="2.1" stroke-dasharray="14.09 4.53 1.51 4.03"/>
<path d="M591.8,61.4 592.4,61.4 593.0,61.4 593.7,61.4 594.4,61.4 595.2,61.5 596.0,61.5 596.8,61.6 597.6,61.6 598.4,61.6 599.1,61.6 599.8,61.6 600.6,61.6 601.4,61.5 602.1,61.5 602.9,61.5 603.7,61.4 604.4,61.4 605.1,61.3 605.8,61.3 606.4,61.2 607.3,61.1 608.1,60.9 608.9,60.8 609.6,60.6 610.3,60.4 611.1,60.3 611.8,60.2 612.5,60.1 613.2,60.1 613.9,60.0 614.6,60.0 615.4,59.9 616.3,59.9" fill="none" stroke="#1a86ff" stroke-width="2.1" stroke-dasharray="14.36 4.62 1.54 4.10"/>
<path d="M616.3,59.9 616.9,59.9 617.6,59.9 618.3,59.9 619.0,59.9 619.7,60.0 620.4,60.0 621.2,60.0 621.9,60.0 622.7,60.1 623.4,60.1 624.1,60.1 624.9,60.1 625.6,60.2 626.4,60.2 627.2,60.2 627.9,60.2 628.7,60.3 629.4,60.3 630.1,60.3 630.8,60.3 631.4,60.3 632.3,60.3 633.2,60.2 633.9,60.1 634.6,60.0 635.3,59.9 636.0,59.8 636.7,59.7 637.3,59.6 637.9,59.5 638.7,59.5 640.0,59.5" fill="none" stroke="#1a86ff" stroke-width="2.1" stroke-dasharray="13.86 4.45 1.48 3.96"/>
<path d="M640.0,59.5 640.5,59.5 641.1,59.5 641.8,59.6 642.4,59.6 643.2,59.7 644.0,59.7 644.7,59.8 645.6,59.9 646.4,59.9 647.2,60.0 648.0,60.0 648.7,60.1 649.5,60.1 650.2,60.2 650.8,60.2 651.4,60.2 652.3,60.2 653.2,60.2 653.9,60.2 654.6,60.1 655.2,60.0 655.8,60.0 656.4,59.9 657.1,59.9 657.7,59.9 658.4,59.9 659.1,59.9 659.8,60.0 660.5,60.1 661.1,60.1 661.8,60.2 662.6,60.2 663.4,60.2" fill="none" stroke="#1a86ff" stroke-width="2.1" stroke-dasharray="13.67 4.40 1.47 3.91"/>
<path d="M663.4,60.2 664.0,60.2 664.7,60.2 665.4,60.2 666.1,60.1 666.9,60.1 667.6,60.1 668.4,60.0 669.1,60.0 669.8,60.0 670.5,59.9 671.2,59.9 672.0,59.8 672.7,59.8 673.5,59.7 674.2,59.6 674.9,59.6 675.6,59.5 676.2,59.4 676.9,59.4 677.5,59.4 678.4,59.4 679.2,59.5 679.9,59.7 680.7,59.8 681.4,59.9 682.2,60.0 682.9,60.0 683.6,60.0 684.4,60.0 685.1,60.0 685.9,60.0 686.6,59.9 687.4,59.9" fill="none" stroke="#1a86ff" stroke-width="2.1" stroke-dasharray="14.04 4.51 1.50 4.01"/>
<path d="M687.4,59.9 688.1,59.8 688.8,59.8 689.5,59.7 690.2,59.6 690.9,59.5 691.6,59.4 692.4,59.4 693.1,59.4 693.8,59.5 694.5,59.6 695.2,59.8 695.9,60.0 696.6,60.2 697.3,60.4 698.0,60.5 698.7,60.6 699.3,60.7 700.2,60.7 700.9,60.6 701.7,60.4 702.4,60.2 703.2,60.0 704.0,59.9 704.6,59.8 705.2,59.8 705.7,59.7 706.3,59.7 706.9,59.6 707.7,59.6 708.6,59.6 709.7,59.6" fill="none" stroke="#1a86ff" stroke-width="2.1" stroke-dasharray="13.17 4.23 1.41 3.76"/>
<path d="M709.7,59.6 710.2,59.6 710.8,59.6 711.5,59.6 712.2,59.6 712.9,59.7 713.7,59.7 714.4,59.7 715.2,59.7 716.1,59.7 716.9,59.8 717.7,59.8 718.5,59.8 719.3,59.8 720.0,59.8 720.8,59.9 721.5,59.9 722.1,59.9 722.7,59.9 723.3,59.9 724.4,59.9 725.4,59.9 726.2,59.8 727.0,59.8 727.6,59.7 728.2,59.6 728.8,59.6 729.5,59.6 730.3,59.6 731.1,59.7 731.8,59.8 732.5,59.8 733.3,59.9 734.2,59.9" fill="none" stroke="#1a86ff" stroke-width="2.1" stroke-dasharray="14.31 4.60 1.53 4.09"/>
<path d="M734.2,59.9 734.8,59.9 735.5,59.9 736.1,59.8 736.9,59.8 737.6,59.7 738.4,59.7 739.2,59.6 739.9,59.5 740.6,59.5 741.3,59.4 742.0,59.4 742.9,59.4 743.7,59.3 744.4,59.3 745.2,59.3 745.9,59.2 746.7,59.2 747.4,59.2 748.2,59.2 748.9,59.2 749.6,59.2 750.4,59.3 751.1,59.3 751.8,59.3 752.6,59.3 753.2,59.3 753.9,59.3 754.5,59.3 755.3,59.2 756.1,59.0 756.7,58.8 757.4,58.6 758.0,58.4 758.7,58.3" fill="none" stroke="#1a86ff" stroke-width="2.1" stroke-dasharray="14.38 4.62 1.54 4.11"/>
<path d="M758.7,58.3 759.4,58.2 760.1,58.2 760.8,58.2 761.5,58.2 762.2,58.2 763.0,58.3 763.7,58.4 764.5,58.5 765.3,58.7 766.1,58.9 766.8,59.0 767.6,59.2 768.3,59.2 769.0,59.2 769.6,59.0 770.2,58.9 770.8,58.7 771.6,58.5 772.5,58.4 773.1,58.3 773.7,58.3 774.3,58.2 774.9,58.2 775.6,58.1 776.3,58.1 777.1,58.0 777.9,58.0 778.8,57.9 779.8,57.9 780.8,57.9" fill="none" stroke="#1a86ff" stroke-width="2.1" stroke-dasharray="13.01 4.18 1.39 3.72"/>
<path d="M780.8,57.9 781.4,57.9 782.0,57.9 782.7,57.9 783.3,57.9 784.1,57.9 784.8,57.9 785.6,58.0 786.3,58.0 787.1,58.0 787.9,58.0 788.7,58.0 789.5,58.1 790.3,58.1 791.1,58.1 791.8,58.1 792.6,58.2 793.3,58.2 794.0,58.2 794.7,58.2 795.3,58.2 795.9,58.2 796.8,58.2 797.7,58.2 798.5,58.2 799.2,58.1 799.8,58.1 800.5,58.1 801.1,58.0 801.8,58.0 802.4,58.0 803.2,57.9 803.9,57.9 804.8,57.9" fill="none" stroke="#1a86ff" stroke-width="2.1" stroke-dasharray="14.01 4.50 1.50 4.00"/>
<path d="M804.8,57.9 805.4,57.9 806.1,57.9 806.8,57.9 807.5,57.9 808.2,57.9 808.9,58.0 809.7,58.0 810.5,58.0 811.2,58.0 812.0,58.1 812.8,58.1 813.5,58.1 814.3,58.1 815.0,58.1 815.8,58.1 816.5,58.1 817.1,58.1 817.8,58.1 818.6,58.1 819.3,58.0 820.1,58.0 820.8,57.9 821.4,57.8 822.1,57.7 822.7,57.6 823.4,57.5 824.1,57.4 824.7,57.4 825.4,57.3 826.2,57.3 826.9,57.2 827.7,57.2" fill="none" stroke="#1a86ff" stroke-width="2.1" stroke-dasharray="13.39 4.30 1.43 3.83"/>
<path d="M827.7,57.2 828.3,57.2 829.0,57.2 829.7,57.2 830.4,57.3 831.1,57.3 831.9,57.4 832.6,57.4 833.4,57.5 834.1,57.5 834.9,57.6 835.7,57.7 836.4,57.7 837.2,57.8 837.9,57.8 838.6,57.8 839.3,57.9 840.0,57.9 840.7,57.9 841.5,57.9 842.2,57.9 843.0,57.8 843.7,57.8 844.4,57.7 845.1,57.7 845.8,57.6 846.5,57.5 847.2,57.4 847.9,57.4 848.6,57.3 849.3,57.3 850.0,57.2 850.8,57.2 851.6,57.2" fill="none" stroke="#1a86ff" stroke-width="2.1" stroke-dasharray="13.97 4.49 1.50 3.99"/>
<path d="M851.6,57.2 852.3,57.2 852.9,57.2 853.6,57.2 854.3,57.3 855.0,57.3 855.8,57.4 856.5,57.4 857.2,57.5 858.0,57.5 858.7,57.6 859.5,57.6 860.2,57.7 861.0,57.7 861.7,57.8 862.4,57.8 863.1,57.8 863.8,57.9 864.5,57.9 865.1,57.9 865.9,57.9 866.6,57.9 867.4,57.9 868.1,57.8 868.7,57.8 869.4,57.7 870.1,57.7 870.7,57.6 871.4,57.6 872.1,57.5 872.7,57.5 873.4,57.5 874.2,57.4 874.9,57.4 875.7,57.4" fill="none" stroke="#1a86ff" stroke-width="2.1" stroke-dasharray="14.08 4.53 1.51 4.02"/>
<path d="M875.7,57.4 876.3,57.4 877.0,57.4 877.7,57.4 878.4,57.5 879.1,57.5 879.9,57.5 880.6,57.6 881.4,57.6 882.1,57.7 882.9,57.7 883.6,57.8 884.4,57.8 885.1,57.8 885.9,57.9 886.6,57.9 887.3,57.9 888.0,57.9 888.7,57.9 889.3,57.9 890.1,57.9 890.9,57.8 891.7,57.8 892.4,57.7 893.1,57.6 893.7,57.5 894.4,57.4 895.1,57.3 895.8,57.2 896.5,57.1 897.2,57.0 898.0,56.9 898.8,56.9 899.7,56.8" fill="none" stroke="#1a86ff" stroke-width="2.1" stroke-dasharray="14.04 4.51 1.50 4.01"/>
<path d="M899.7,56.8 900.3,56.8 901.0,56.7 901.7,56.7 902.4,56.6 903.1,56.6 903.9,56.6 904.6,56.5 905.4,56.5 906.2,56.5 907.0,56.4 907.7,56.4 908.5,56.4 909.3,56.4 910.1,56.3 910.8,56.3 911.5,56.3 912.2,56.3 912.9,56.3 913.6,56.3 914.2,56.3 914.8,56.3 915.8,56.3 916.7,56.4 917.5,56.5 918.3,56.6 919.1,56.7 919.8,56.8 920.5,56.9 921.1,57.0 921.8,57.1 922.4,57.2 923.0,57.2 923.6,57.2" fill="none" stroke="#1a86ff" stroke-width="2.1" stroke-dasharray="13.98 4.49 1.50 4.00"/>
<path d="M923.6,57.2 924.5,57.1 925.3,56.9 926.0,56.6 926.7,56.3 927.3,56.0 928.0,55.7 928.6,55.5 929.3,55.4 930.0,55.5 930.7,55.6 931.3,55.9 931.9,56.2 932.6,56.5 933.5,56.7 934.5,56.8 935.1,56.8 935.7,56.8 936.3,56.7 936.9,56.7 937.6,56.6 938.3,56.5 939.1,56.4 939.8,56.3 940.6,56.2 941.4,56.1 942.2,56.0 943.0,55.9 943.8,55.9 944.7,55.8 945.5,55.8" fill="none" stroke="#1a86ff" stroke-width="2.1" stroke-dasharray="13.13 4.22 1.41 3.75"/>
<path d="M945.5,55.8 946.1,55.8 946.8,55.8 947.5,55.8 948.3,55.8 949.0,55.8 949.8,55.9 950.6,55.9 951.4,55.9 952.1,56.0 952.9,56.0 953.7,56.1 954.5,56.1 955.2,56.2 955.9,56.2 956.6,56.2 957.3,56.3 957.9,56.3 958.5,56.3 959.0,56.3 959.5,56.3 960.8,56.2 961.6,56.1 962.2,56.0 962.6,55.8 963.1,55.7 963.7,55.6 964.4,55.6 965.2,55.5 966.0,55.5 966.7,55.6 967.6,55.7 968.4,55.8" fill="none" stroke="#1a86ff" stroke-width="2.1" stroke-dasharray="13.42 4.31 1.44 3.83"/>
<path d="M968.4,55.8 969.1,56.0 969.8,56.2 970.5,56.5 971.2,56.8 972.0,57.1 972.7,57.4 973.4,57.5 974.1,57.6 974.9,57.5 975.6,57.3 976.3,57.0 977.1,56.6 977.8,56.3 978.5,56.0 979.3,55.8 980.0,55.7 980.7,55.7 981.4,55.7 982.2,55.7 982.9,55.7 983.6,55.7 984.3,55.8 985.0,55.8 985.7,55.8 986.3,55.9 986.8,56.0 987.4,56.1 988.1,56.1 988.9,56.2 990.1,56.2" fill="none" stroke="#1a86ff" stroke-width="2.1" stroke-dasharray="13.05 4.20 1.40 3.73"/>
<path d="M990.1,56.2 990.6,56.2 991.2,56.2 991.8,56.2 992.5,56.2 993.2,56.1 994.0,56.1 994.7,56.1 995.5,56.0 996.3,56.0 997.1,56.0 997.9,56.0 998.7,55.9 999.5,55.9 1000.3,55.9 1001.0,55.8 1001.7,55.8 1002.4,55.8 1003.0,55.8 1003.5,55.8 1004.6,55.8 1005.6,55.8 1006.4,55.9 1007.1,56.0 1007.8,56.0 1008.4,56.1 1009.0,56.1 1009.7,56.2 1010.6,56.3 1011.4,56.3 1012.3,56.4 1013.0,56.5 1013.7,56.5 1014.4,56.5" fill="none" stroke="#1a86ff" stroke-width="2.1" stroke-dasharray="14.20 4.56 1.52 4.06"/>
<path d="M1014.4,56.5 1015.3,56.5 1016.1,56.4 1016.8,56.2 1017.3,55.9 1017.7,55.3 1018.0,54.5 1018.2,53.7 1018.3,53.2" fill="none" stroke="#1a86ff" stroke-width="2.1" stroke-dasharray="14.00 4.50 1.50 4.00"/>
<path d="M485,273.5 L486.5,278.3 L488,273.5" fill="none" stroke="#1a86ff" stroke-width="2.1" stroke-linejoin="round"/>
<path d="M117.0,53.4H129.4M123.2,47.2V59.6" stroke="#111" stroke-width="1.7" fill="none"/>
<path d="M285.3,54.6H297.5M291.4,50.8V58" stroke="#222" stroke-width="1.3" fill="none"/>
<path d="M437.8,65.0H450.0M443.9,58.9V71.1" stroke="#4a4a4a" stroke-width="1.3" fill="none"/>
<path d="M455.4,77.3H467.6M461.5,71.2V83.4" stroke="#4a4a4a" stroke-width="1.3" fill="none"/>
<path d="M481.1,176.0H493.3M487.2,169.9V182.1" stroke="#4a4a4a" stroke-width="1.3" fill="none"/>
<path d="M480.4,281.3H492.6M486.5,275.2V287.4" stroke="#333" stroke-width="1.3" fill="none"/>
<line x1="1018.5" y1="275" x2="1018.5" y2="287" stroke="#444" stroke-width="1.2"/>
<g class="a" fill="#0f870f">
<text x="517" y="111">Value: 329.85 °C, 90.00 %</text>
<text x="303" y="177">Value: 315.25 °C, 95.00 %</text>
<text x="546.8" y="187.5">Value: 352.07 °C, 50.01 %</text>
<text x="850.2" y="136.5">Mass Change:</text>
<text x="1017.9" y="136.5" text-anchor="end">-92.50 %</text>
<text x="850.2" y="152.9">Residual mass:</text>
<text x="1017.9" y="152.9" text-anchor="end">7.50 %</text>
</g>
<text class="a" fill="#1a84f5" x="266" y="238.3">Peak: 350.95 °C, -31.31 %/min</text>
<text x="1018.2" y="277.8" text-anchor="end" style="font-family:'Liberation Sans', Arial, sans-serif;font-size:11.3px" fill="#4a9a2a">[1]</text>
<text x="1017.9" y="50.9" text-anchor="end" style="font-family:'Liberation Sans', Arial, sans-serif;font-size:11.3px" fill="#3a8af0">[1]</text>
<text x="1018.2" y="571.5" text-anchor="end" style="font-family:'Liberation Sans', Arial, sans-serif;font-size:11.3px" fill="#4040e0">[1]</text>
</svg>
<div class="cap" style="left:339.6px;top:659px">图 2.2-1<span class="q1">“</span>2302003450-2<span class="q2">”</span>TGA-DSC 曲线</div>
</body></html>
